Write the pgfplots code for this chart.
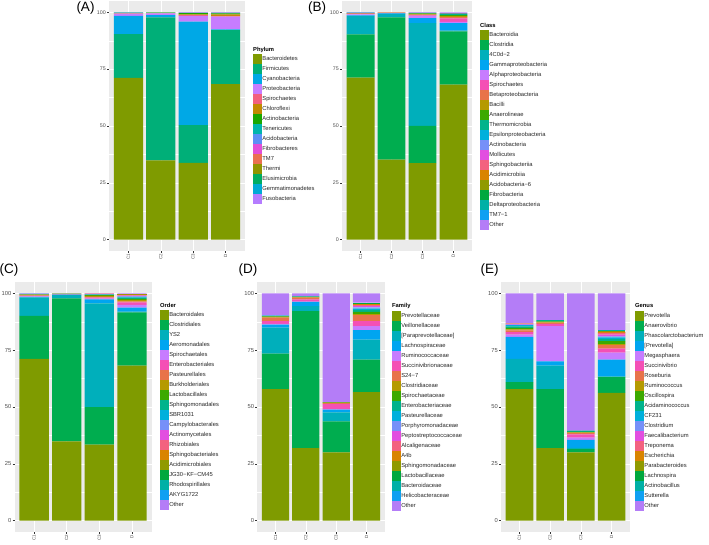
\documentclass[border=0pt]{standalone}
\usepackage{pgfplots}
\pgfplotsset{compat=1.18}
\usepackage{pgfplotstable}
\usepackage{fontspec}
\setmainfont{Liberation Sans}
\newcommand\lb{[}

\definecolor{ggbg}{HTML}{EBEBEB}
\definecolor{ggtxt}{HTML}{4D4D4D}
\definecolor{ggtick}{HTML}{333333}
% phylum palette
\definecolor{a1}{HTML}{7F9B00}
\definecolor{a2}{HTML}{00AF78}
\definecolor{a3}{HTML}{00A8E6}
\definecolor{a4}{HTML}{C77CFF}
\definecolor{a5}{HTML}{F2607E}
\definecolor{a6}{HTML}{C28A00}
\definecolor{a7}{HTML}{19A800}
\definecolor{a8}{HTML}{00B5AD}
\definecolor{a9}{HTML}{5C8FF5}
\definecolor{a10}{HTML}{E24ED8}
\definecolor{a11}{HTML}{EA7050}
\definecolor{a12}{HTML}{909500}
\definecolor{a13}{HTML}{00AD62}
\definecolor{a14}{HTML}{00AAD5}
\definecolor{a15}{HTML}{B57CFF}
% 20-level palette
\definecolor{p1}{HTML}{7F9B00}
\definecolor{p2}{HTML}{00AD4F}
\definecolor{p3}{HTML}{00AFBB}
\definecolor{p4}{HTML}{00A5F0}
\definecolor{p5}{HTML}{C77CFF}
\definecolor{p6}{HTML}{F450B5}
\definecolor{p7}{HTML}{E8734A}
\definecolor{p8}{HTML}{B59A00}
\definecolor{p9}{HTML}{3CA900}
\definecolor{p10}{HTML}{00B38C}
\definecolor{p11}{HTML}{00B0DC}
\definecolor{p12}{HTML}{7690F8}
\definecolor{p13}{HTML}{E24EE0}
\definecolor{p14}{HTML}{F3627F}
\definecolor{p15}{HTML}{D98400}
\definecolor{p16}{HTML}{909A00}
\definecolor{p17}{HTML}{00A83E}
\definecolor{p18}{HTML}{00B0A6}
\definecolor{p19}{HTML}{0FA0F2}
\definecolor{p20}{HTML}{B47DF7}

% Phylum
\pgfplotstableread{
x s1 s2 s3 s4 s5 s6 s7 s8 s9 s10 s11 s12 s13 s14 s15
1 71.2 19.2 8.0 1.0 0.2 0.1 0.1 0.1 0.05 0.05 0 0 0 0 0
2 34.9 62.9 1.0 0.7 0.2 0.1 0.1 0.1 0 0 0 0 0 0 0
3 33.8 16.6 45.5 2.6 0.3 0.3 0.6 0.1 0.1 0.05 0.05 0 0 0 0
4 68.4 23.8 0.3 5.6 0.4 0.6 0.5 0.2 0.1 0.05 0.05 0 0 0 0
}\phylumdata
% Class
\pgfplotstableread{
x s1 s2 s3 s4 s5 s6 s7 s8 s9 s10 s11 s12 s13 s14 s15 s16 s17 s18 s19 s20
1 71.3 19.0 8.1 0.3 0.4 0.2 0.2 0.1 0.1 0.1 0.05 0.05 0.05 0 0 0 0 0 0 0.05
2 35.2 62.6 1.5 0.2 0.2 0.1 0.1 0.05 0 0 0 0 0 0 0 0 0 0 0 0.05
3 33.7 16.4 45.2 2.2 1.0 0.2 0.3 0.2 0.3 0.2 0.1 0.1 0.05 0.05 0 0 0 0 0 0
4 68.2 23.4 0.4 3.3 0.5 1.5 0.6 0.4 0.5 0.4 0.2 0.1 0.1 0.1 0.1 0 0 0 0 0.2
}\classdata
% Order
\pgfplotstableread{
x s1 s2 s3 s4 s5 s6 s7 s8 s9 s10 s11 s12 s13 s14 s15 s16 s17 s18 s19 s20
1 71.2 18.9 8.1 0.3 0.2 0.2 0.2 0.3 0.2 0.1 0.1 0.05 0.05 0 0 0 0 0 0 0.1
2 34.9 62.9 1.4 0.2 0.1 0.1 0.1 0.1 0.1 0 0 0 0 0 0 0 0 0 0 0.1
3 33.5 16.5 45.6 1.8 0.3 0.4 0.3 0.5 0.3 0.2 0.2 0.1 0.1 0.05 0.05 0 0 0 0 0.1
4 68.2 23.4 0.4 1.7 1.2 1.1 0.5 0.6 0.5 0.5 0.3 0.3 0.3 0.2 0.2 0.1 0.1 0.1 0.1 0.2
}\orderdata
% Family
\pgfplotstableread{
x s1 s2 s3 s4 s5 s6 s7 s8 s9 s10 s11 s12 s13 s14 s15 s16 s17 s18 s19 s20
1 57.9 15.6 11.4 1.4 0.3 1.2 1.5 0.3 0.3 0.2 0.1 0.1 0 0 0 0 0 0 0 9.7
2 31.9 60.3 2.2 1.8 0.2 1.0 0.7 0.2 0.2 0.2 0 0 0 0 0 0 0 0 0 1.3
3 30.0 13.7 3.9 1.2 0.3 2.2 0.4 0.2 0.2 0.1 0 0 0 0 0 0 0 0 0 47.8
4 56.5 14.4 8.8 4.1 1.8 2.2 2.6 0.5 1.0 0.8 0.6 0.5 0.5 0.5 0.3 0.3 0.2 0.2 0.1 4.1
}\familydata
% Genus
\pgfplotstableread{
x s1 s2 s3 s4 s5 s6 s7 s8 s9 s10 s11 s12 s13 s14 s15 s16 s17 s18 s19 s20
1 57.9 3.0 10.3 9.7 1.0 1.0 0.8 0.5 0.6 0.7 0.5 0.3 0.2 0.2 0.1 0 0 0 0 13.2
2 31.9 26.0 10.3 1.9 15.5 1.0 0.5 0.3 0.3 0.5 0 0 0 0 0 0 0 0 0 11.8
3 30.0 1.5 0.5 3.5 1.0 1.5 0.5 0.3 0.3 0.5 0 0 0 0 0 0 0 0 0 60.4
4 56.2 7.0 0.3 7.4 3.0 1.8 1.5 0.5 1.3 1.0 0.6 0.5 0.8 0.7 0.4 0.3 0.3 0.2 0 16.2
}\genusdata

\pgfplotsset{
  gg/.style={
    scale only axis, height=250pt,
    ybar stacked, bar width=0.9,
    xmin=0.4, xmax=4.6, ymin=-5, ymax=105,
    xtick={1,2,3,4}, xticklabels={C1,C2,C3,D},
    ytick={0,25,50,75,100}, minor ytick={12.5,37.5,62.5,87.5},
    grid=both,
    major grid style={white, line width=0.6pt},
    minor grid style={white, line width=0.3pt},
    axis background/.style={fill=ggbg},
    axis line style={draw=none},
    tick align=outside, tick pos=left,
    major tick length=2pt, minor tick length=0pt,
    tick style={ggtick, line width=0.4pt},
    /pgf/number format/assume math mode=true,
    yticklabel style={font=\fontsize{5.3}{5.3}\selectfont, text=ggtxt, inner sep=1pt},
    xticklabel style={font=\fontsize{4.5}{4.5}\selectfont, text=ggtxt, rotate=90, anchor=east, inner sep=1pt},
    legend cell align=left,
    legend image code/.code={\fill[##1] (0pt,-4.6pt) rectangle (9.4pt,4.6pt);},
    legend style={draw=none, fill=none, anchor=north west, inner sep=0pt, outer sep=0pt,
      row sep=0pt, font=\fontsize{5.8}{5.8}\selectfont, text=black!85,
      nodes={inner sep=0pt, minimum height=10pt},
      /tikz/every even column/.append style={column sep=2pt}},
  },
}

\begin{document}
\begin{tikzpicture}
\path[use as bounding box] (0pt,0pt) rectangle (709pt,544pt);

% ---------- (A) Phylum ----------
\begin{axis}[gg, width=136pt, at={(109pt,293pt)}, anchor=south west,
  legend style={at={(1.0588,0.788)}}]
\addplot[fill=a1,draw=none] table[x=x,y=s1]{\phylumdata};
\addplot[fill=a2,draw=none] table[x=x,y=s2]{\phylumdata};
\addplot[fill=a3,draw=none] table[x=x,y=s3]{\phylumdata};
\addplot[fill=a4,draw=none] table[x=x,y=s4]{\phylumdata};
\addplot[fill=a5,draw=none] table[x=x,y=s5]{\phylumdata};
\addplot[fill=a6,draw=none] table[x=x,y=s6]{\phylumdata};
\addplot[fill=a7,draw=none] table[x=x,y=s7]{\phylumdata};
\addplot[fill=a8,draw=none] table[x=x,y=s8]{\phylumdata};
\addplot[fill=a9,draw=none] table[x=x,y=s9]{\phylumdata};
\addplot[fill=a10,draw=none] table[x=x,y=s10]{\phylumdata};
\addplot[fill=a11,draw=none] table[x=x,y=s11]{\phylumdata};
\addplot[fill=a12,draw=none] table[x=x,y=s12]{\phylumdata};
\addplot[fill=a13,draw=none] table[x=x,y=s13]{\phylumdata};
\addplot[fill=a14,draw=none] table[x=x,y=s14]{\phylumdata};
\addplot[fill=a15,draw=none] table[x=x,y=s15]{\phylumdata};
\legend{Bacteroidetes,Firmicutes,Cyanobacteria,Proteobacteria,Spirochaetes,Chloroflexi,Actinobacteria,Tenericutes,Acidobacteria,Fibrobacteres,TM7,Thermi,Elusimicrobia,Gemmatimonadetes,Fusobacteria}
\end{axis}

% ---------- (B) Class ----------
\begin{axis}[gg, width=130pt, at={(342pt,293pt)}, anchor=south west,
  legend style={at={(1.0615,0.884)}}]
\addplot[fill=p1,draw=none] table[x=x,y=s1]{\classdata};
\addplot[fill=p2,draw=none] table[x=x,y=s2]{\classdata};
\addplot[fill=p3,draw=none] table[x=x,y=s3]{\classdata};
\addplot[fill=p4,draw=none] table[x=x,y=s4]{\classdata};
\addplot[fill=p5,draw=none] table[x=x,y=s5]{\classdata};
\addplot[fill=p6,draw=none] table[x=x,y=s6]{\classdata};
\addplot[fill=p7,draw=none] table[x=x,y=s7]{\classdata};
\addplot[fill=p8,draw=none] table[x=x,y=s8]{\classdata};
\addplot[fill=p9,draw=none] table[x=x,y=s9]{\classdata};
\addplot[fill=p10,draw=none] table[x=x,y=s10]{\classdata};
\addplot[fill=p11,draw=none] table[x=x,y=s11]{\classdata};
\addplot[fill=p12,draw=none] table[x=x,y=s12]{\classdata};
\addplot[fill=p13,draw=none] table[x=x,y=s13]{\classdata};
\addplot[fill=p14,draw=none] table[x=x,y=s14]{\classdata};
\addplot[fill=p15,draw=none] table[x=x,y=s15]{\classdata};
\addplot[fill=p16,draw=none] table[x=x,y=s16]{\classdata};
\addplot[fill=p17,draw=none] table[x=x,y=s17]{\classdata};
\addplot[fill=p18,draw=none] table[x=x,y=s18]{\classdata};
\addplot[fill=p19,draw=none] table[x=x,y=s19]{\classdata};
\addplot[fill=p20,draw=none] table[x=x,y=s20]{\classdata};
\legend{Bacteroidia,Clostridia,4C0d−2,Gammaproteobacteria,Alphaproteobacteria,Spirochaetes,Betaproteobacteria,Bacilli,Anaerolineae,Thermomicrobia,Epsilonproteobacteria,Actinobacteria,Mollicutes,Sphingobacteriia,Acidimicrobiia,Acidobacteria−6,Fibrobacteria,Deltaproteobacteria,TM7−1,Other}
\end{axis}

% ---------- (C) Order ----------
\begin{axis}[gg, width=137pt, at={(14.5pt,12pt)}, anchor=south west,
  yticklabel style={font=\fontsize{5.8}{5.8}\selectfont},
  legend style={at={(1.061,0.888)}}]
\addplot[fill=p1,draw=none] table[x=x,y=s1]{\orderdata};
\addplot[fill=p2,draw=none] table[x=x,y=s2]{\orderdata};
\addplot[fill=p3,draw=none] table[x=x,y=s3]{\orderdata};
\addplot[fill=p4,draw=none] table[x=x,y=s4]{\orderdata};
\addplot[fill=p5,draw=none] table[x=x,y=s5]{\orderdata};
\addplot[fill=p6,draw=none] table[x=x,y=s6]{\orderdata};
\addplot[fill=p7,draw=none] table[x=x,y=s7]{\orderdata};
\addplot[fill=p8,draw=none] table[x=x,y=s8]{\orderdata};
\addplot[fill=p9,draw=none] table[x=x,y=s9]{\orderdata};
\addplot[fill=p10,draw=none] table[x=x,y=s10]{\orderdata};
\addplot[fill=p11,draw=none] table[x=x,y=s11]{\orderdata};
\addplot[fill=p12,draw=none] table[x=x,y=s12]{\orderdata};
\addplot[fill=p13,draw=none] table[x=x,y=s13]{\orderdata};
\addplot[fill=p14,draw=none] table[x=x,y=s14]{\orderdata};
\addplot[fill=p15,draw=none] table[x=x,y=s15]{\orderdata};
\addplot[fill=p16,draw=none] table[x=x,y=s16]{\orderdata};
\addplot[fill=p17,draw=none] table[x=x,y=s17]{\orderdata};
\addplot[fill=p18,draw=none] table[x=x,y=s18]{\orderdata};
\addplot[fill=p19,draw=none] table[x=x,y=s19]{\orderdata};
\addplot[fill=p20,draw=none] table[x=x,y=s20]{\orderdata};
\legend{Bacteroidales,Clostridiales,YS2,Aeromonadales,Spirochaetales,Enterobacteriales,Pasteurellales,Burkholderiales,Lactobacillales,Sphingomonadales,SBR1031,Campylobacterales,Actinomycetales,Rhizobiales,Sphingobacteriales,Acidimicrobiales,JG30−KF−CM45,Rhodospirillales,AKYG1722,Other}
\end{axis}

% ---------- (D) Family ----------
\begin{axis}[gg, width=127.4pt, at={(257.3pt,12pt)}, anchor=south west,
  yticklabel style={font=\fontsize{5.8}{5.8}\selectfont},
  legend style={at={(1.057,0.884)}}]
\addplot[fill=p1,draw=none] table[x=x,y=s1]{\familydata};
\addplot[fill=p2,draw=none] table[x=x,y=s2]{\familydata};
\addplot[fill=p3,draw=none] table[x=x,y=s3]{\familydata};
\addplot[fill=p4,draw=none] table[x=x,y=s4]{\familydata};
\addplot[fill=p5,draw=none] table[x=x,y=s5]{\familydata};
\addplot[fill=p6,draw=none] table[x=x,y=s6]{\familydata};
\addplot[fill=p7,draw=none] table[x=x,y=s7]{\familydata};
\addplot[fill=p8,draw=none] table[x=x,y=s8]{\familydata};
\addplot[fill=p9,draw=none] table[x=x,y=s9]{\familydata};
\addplot[fill=p10,draw=none] table[x=x,y=s10]{\familydata};
\addplot[fill=p11,draw=none] table[x=x,y=s11]{\familydata};
\addplot[fill=p12,draw=none] table[x=x,y=s12]{\familydata};
\addplot[fill=p13,draw=none] table[x=x,y=s13]{\familydata};
\addplot[fill=p14,draw=none] table[x=x,y=s14]{\familydata};
\addplot[fill=p15,draw=none] table[x=x,y=s15]{\familydata};
\addplot[fill=p16,draw=none] table[x=x,y=s16]{\familydata};
\addplot[fill=p17,draw=none] table[x=x,y=s17]{\familydata};
\addplot[fill=p18,draw=none] table[x=x,y=s18]{\familydata};
\addplot[fill=p19,draw=none] table[x=x,y=s19]{\familydata};
\addplot[fill=p20,draw=none] table[x=x,y=s20]{\familydata};
\legend{Prevotellaceae,Veillonellaceae,\lb Paraprevotellaceae],Lachnospiraceae,Ruminococcaceae,Succinivibrionaceae,S24−7,Clostridiaceae,Spirochaetaceae,Enterobacteriaceae,Pasteurellaceae,Porphyromonadaceae,Peptostreptococcaceae,Alcaligenaceae,A4b,Sphingomonadaceae,Lactobacillaceae,Bacteroidaceae,Helicobacteraceae,Other}
\end{axis}

% ---------- (E) Genus ----------
\begin{axis}[gg, width=129pt, at={(501pt,12pt)}, anchor=south west,
  yticklabel style={font=\fontsize{5.8}{5.8}\selectfont},
  legend style={at={(1.039,0.884)}}]
\addplot[fill=p1,draw=none] table[x=x,y=s1]{\genusdata};
\addplot[fill=p2,draw=none] table[x=x,y=s2]{\genusdata};
\addplot[fill=p3,draw=none] table[x=x,y=s3]{\genusdata};
\addplot[fill=p4,draw=none] table[x=x,y=s4]{\genusdata};
\addplot[fill=p5,draw=none] table[x=x,y=s5]{\genusdata};
\addplot[fill=p6,draw=none] table[x=x,y=s6]{\genusdata};
\addplot[fill=p7,draw=none] table[x=x,y=s7]{\genusdata};
\addplot[fill=p8,draw=none] table[x=x,y=s8]{\genusdata};
\addplot[fill=p9,draw=none] table[x=x,y=s9]{\genusdata};
\addplot[fill=p10,draw=none] table[x=x,y=s10]{\genusdata};
\addplot[fill=p11,draw=none] table[x=x,y=s11]{\genusdata};
\addplot[fill=p12,draw=none] table[x=x,y=s12]{\genusdata};
\addplot[fill=p13,draw=none] table[x=x,y=s13]{\genusdata};
\addplot[fill=p14,draw=none] table[x=x,y=s14]{\genusdata};
\addplot[fill=p15,draw=none] table[x=x,y=s15]{\genusdata};
\addplot[fill=p16,draw=none] table[x=x,y=s16]{\genusdata};
\addplot[fill=p17,draw=none] table[x=x,y=s17]{\genusdata};
\addplot[fill=p18,draw=none] table[x=x,y=s18]{\genusdata};
\addplot[fill=p19,draw=none] table[x=x,y=s19]{\genusdata};
\addplot[fill=p20,draw=none] table[x=x,y=s20]{\genusdata};
\legend{Prevotella,Anaerovibrio,Phascolarctobacterium,\lb Prevotella],Megasphaera,Succinivibrio,Roseburia,Ruminococcus,Oscillospira,Acidaminococcus,CF231,Clostridium,Faecalibacterium,Treponema,Escherichia,Parabacteroides,Lachnospira,Actinobacillus,Sutterella,Other}
\end{axis}

% legend titles
\begin{scope}[every node/.style={anchor=west, inner sep=0pt, font=\bfseries\fontsize{5.8}{5.8}\selectfont}]
\node at (253pt,494pt) {Phylum};
\node at (480pt,519pt) {Class};
\node at (160pt,239pt) {Order};
\node at (392pt,238pt) {Family};
\node at (635pt,238pt) {Genus};
\end{scope}

% panel labels
\begin{scope}[every node/.style={inner sep=0pt, font=\fontsize{13.5}{13.5}\selectfont}]
\node at (85.5pt,536pt) {(A)};
\node at (317pt,536pt) {(B)};
\node at (9pt,274pt) {(C)};
\node at (248pt,274pt) {(D)};
\node at (489.5pt,274pt) {(E)};
\end{scope}
\end{tikzpicture}
\end{document}
